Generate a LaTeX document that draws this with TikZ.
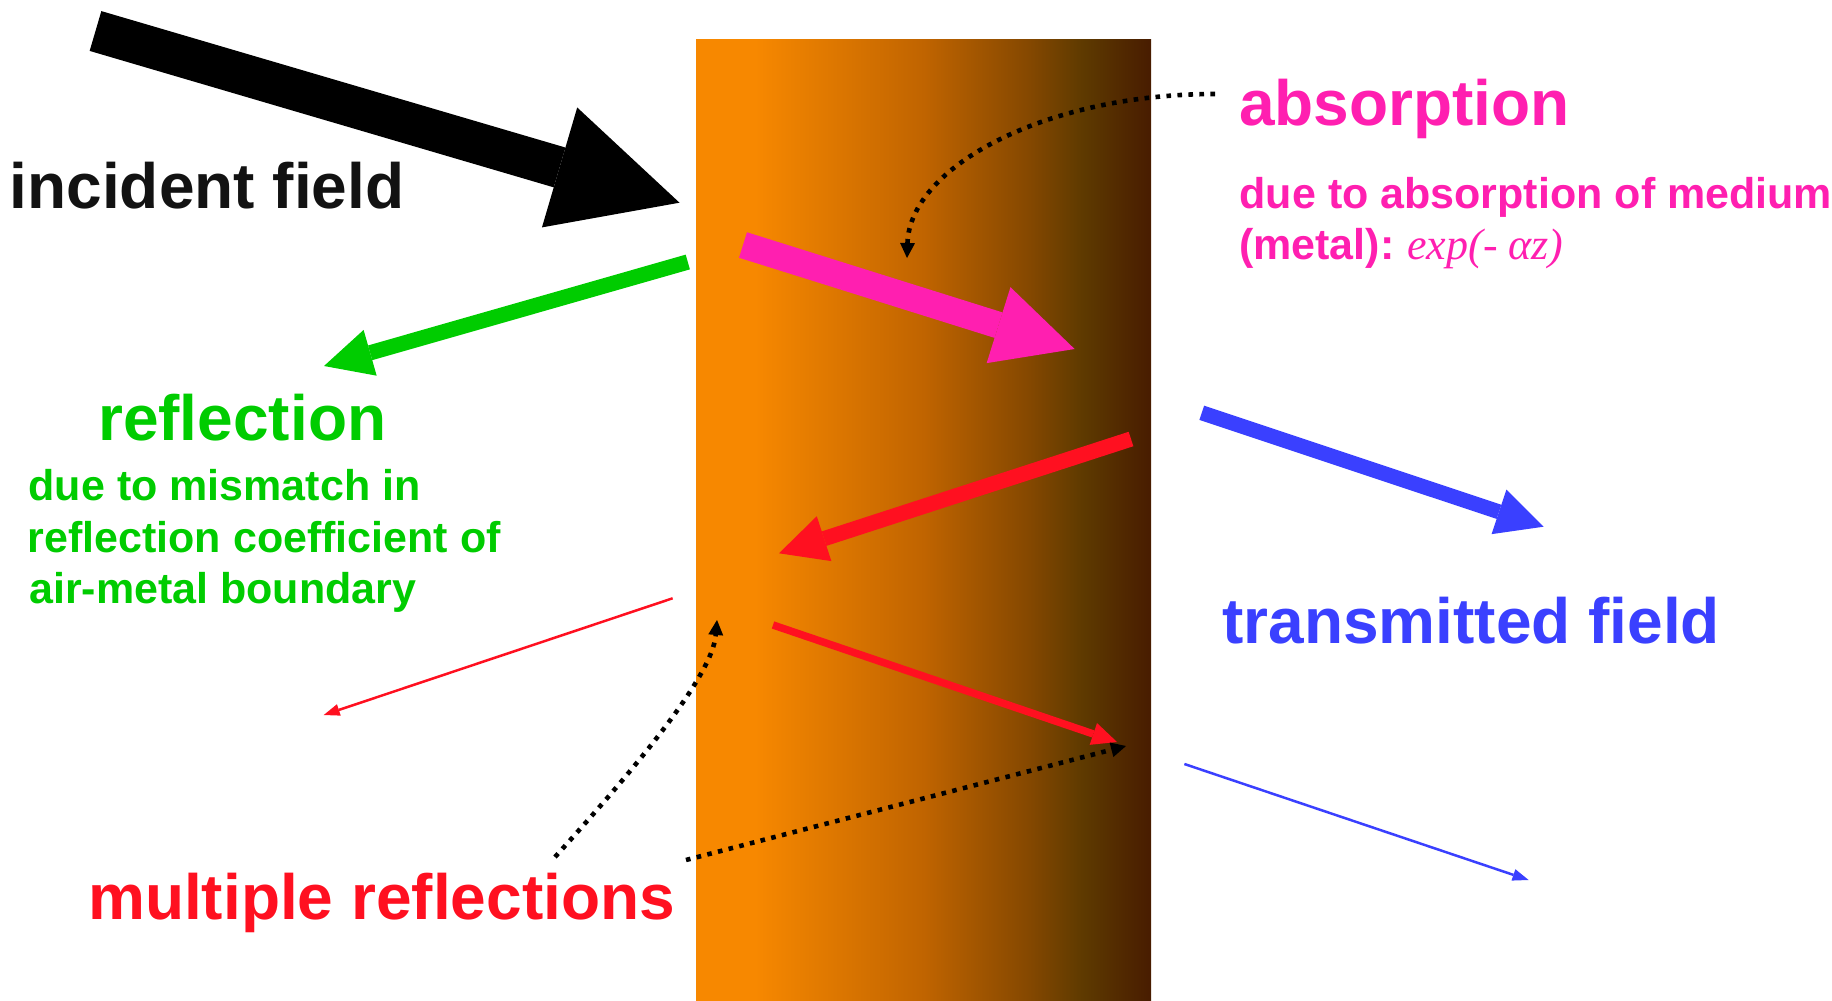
\documentclass[tikz,border=0pt]{standalone}
\usepackage{fontspec}
\setmainfont{Liberation Sans}
\newfontfamily\serifit{Liberation Serif}
\usetikzlibrary{arrows.meta}
\definecolor{metalA}{HTML}{F78800}
\definecolor{metalB}{HTML}{C06400}
\definecolor{metalC}{HTML}{854800}
\definecolor{metalD}{HTML}{5E3A00}
\definecolor{metalE}{HTML}{481C00}
\definecolor{cgreen}{HTML}{00CC00}
\definecolor{cpink}{HTML}{FF1FB0}
\definecolor{cred}{HTML}{FF1020}
\definecolor{cblue}{HTML}{3A40FF}
\pgfdeclarehorizontalshading{metal}{100bp}{color(0bp)=(metalA); color(31.5bp)=(metalA); color(50bp)=(metalB); color(61.5bp)=(metalC); color(67.5bp)=(metalD); color(75bp)=(metalE); color(100bp)=(metalE)}
\tikzset{
  big/.style={font=\fontsize{64}{76}\selectfont\bfseries, anchor=base west, inner sep=0pt},
  small/.style={font=\fontsize{43}{51}\selectfont\bfseries, anchor=base west, inner sep=0pt},
  barrow/.style n args={3}{line width=#1, -{Triangle[length=#2, width=#3, line width=0pt]}},
  thinarrow/.style={line width=2.5pt, -{Triangle[length=16pt, width=12pt, line width=0pt]}},
  dots/.style={black, line width=4.6pt, dash pattern=on 4.6pt off 6.4pt, -{Triangle[length=15pt, width=15pt, line width=0pt]}}
}
\begin{document}
\begin{tikzpicture}[x=1pt,y=-1pt]
\useasboundingbox (0,0) rectangle (1832,1001);
% metal slab
\shade[shading=metal] (696,39) rectangle (1151,1001);

% arrow end points
\coordinate (inc-t) at (95.5,31);    \coordinate (inc-h) at (679.5,202.7);
\coordinate (ref-t) at (687.8,262);  \coordinate (ref-h) at (324,366);
\coordinate (abs-t) at (743,245);    \coordinate (abs-h) at (1074.6,349);
\coordinate (red1-t) at (1131,439);  \coordinate (red1-h) at (779,553.3);
\coordinate (red2-t) at (773,625);   \coordinate (red2-h) at (1117,742);
\coordinate (red3-t) at (672.6,598.3); \coordinate (red3-h) at (323.7,715);
\coordinate (tra1-t) at (1201.8,412.8); \coordinate (tra1-h) at (1543.6,526.7);
\coordinate (tra2-t) at (1184.4,764); \coordinate (tra2-h) at (1528.6,880);

% block arrows
\draw[barrow={41.5pt}{125pt}{125pt}, black] (inc-t) -- (inc-h);
\draw[barrow={15.3pt}{48pt}{47.6pt}, cgreen] (ref-t) -- (ref-h);
\draw[barrow={26.7pt}{79.7pt}{79.6pt}, cpink] (abs-t) -- (abs-h);
\draw[barrow={15.2pt}{47.4pt}{47.2pt}, cred] (red1-t) -- (red1-h);
\draw[barrow={7.5pt}{25pt}{23pt}, cred] (red2-t) -- (red2-h);
\draw[barrow={15pt}{47pt}{47pt}, cblue] (tra1-t) -- (tra1-h);
\draw[thinarrow, cred] (red3-t) -- (red3-h);
\draw[thinarrow, cblue] (tra2-t) -- (tra2-h);

% labels
\node[big, text=black!93] (incident) at (9.5,208.3) {incident field};
\node[big, text=cpink] (absorption) at (1239,125) {absorption};
\node[small, text=cpink] (absdesc1) at (1239.5,208) {due to absorption of medium};
\node[small, text=cpink] (absdesc2) at (1239,259) {(metal):\hspace{-3pt} {\serifit\itshape\mdseries\fontsize{44}{51}\selectfont exp(- αz)}};
\node[big, text=cgreen] (reflection) at (98,440) {reflection};
\node[small, text=cgreen] (refdesc1) at (28.5,500.7) {due to mismatch in};
\node[small, text=cgreen] (refdesc2) at (27.5,552.5) {reflection coefficient of};
\node[small, text=cgreen] (refdesc3) at (29,603.3) {air-metal boundary};
\node[big, text=cblue] (transmitted) at (1222,643.3) {transmitted field};
\node[big, text=cred] (multiple) at (88,919.3) {multiple reflections};

% dotted pointers
\coordinate (absp-s) at (1215,94);   \coordinate (absp-e) at (907,258);
\coordinate (mul1-s) at (555,857);   \coordinate (mul1-e) at (717,620);
\coordinate (mul2-s) at (686,860);   \coordinate (mul2-e) at (1126,746);
\draw[dots] (absp-s) .. controls (1045,94) and (910,167) .. (absp-e);
\draw[dots] (mul1-s) .. controls (620,785) and (712,680) .. (mul1-e);
\draw[dots] (mul2-s) -- (mul2-e);
\end{tikzpicture}
\end{document}
